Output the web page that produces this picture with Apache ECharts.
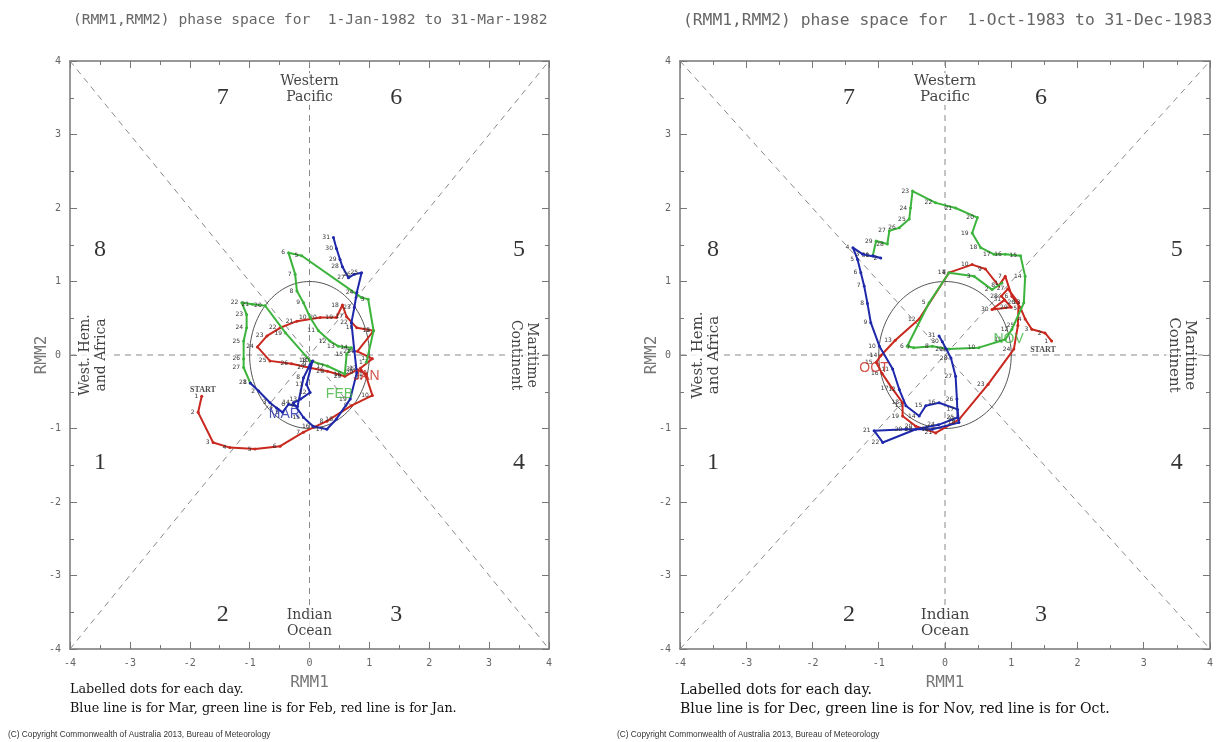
<!DOCTYPE html>
<html><head><meta charset="utf-8">
<script src="https://cdn.jsdelivr.net/npm/echarts@6/dist/echarts.min.js"></script>
<style>html,body{margin:0;padding:0;background:#fff}#c{width:1216px;height:742px}</style>
</head><body><div id="c"></div>
<script>
// ---------- data (RMM1, RMM2) ----------
const jan1982 = [[-1.80,-0.56],[-1.86,-0.78],[-1.61,-1.19],[-1.33,-1.26],[-0.91,-1.28],[-0.49,-1.24],[-0.10,-1.05],[0.29,-0.90],[0.70,-0.69],[1.05,-0.55],[0.95,-0.30],[0.85,-0.18],[1.05,-0.05],[0.80,0.05],[1.07,0.33],[0.79,0.37],[0.62,0.52],[0.55,0.68],[0.45,0.51],[0.18,0.51],[-0.21,0.46],[-0.49,0.37],[-0.71,0.26],[-0.87,0.11],[-0.66,-0.08],[-0.30,-0.12],[-0.02,-0.17],[0.30,-0.22],[0.59,-0.29],[0.80,-0.20],[0.95,-0.26]];
const feb1982 = [[0.95,-0.10],[1.07,0.33],[0.98,0.76],[0.87,0.78],[-0.13,1.35],[-0.35,1.39],[-0.24,1.10],[-0.21,0.87],[-0.10,0.71],[0.01,0.51],[0.15,0.33],[0.34,0.19],[0.48,0.12],[0.70,0.10],[0.62,0.01],[0.59,-0.26],[0.30,-0.15],[0.01,-0.08],[-0.40,0.30],[-0.74,0.67],[-0.95,0.69],[-1.13,0.71],[-1.05,0.55],[-1.05,0.37],[-1.10,0.19],[-1.10,-0.05],[-1.10,-0.17],[-0.99,-0.38]];
const mar1982 = [[-0.99,-0.38],[-0.85,-0.49],[-0.66,-0.65],[-0.55,-0.72],[-0.45,-0.78],[-0.35,-0.67],[-0.20,-0.70],[-0.10,-0.31],[0.01,-0.13],[0.05,-0.08],[-0.05,-0.40],[0.01,-0.51],[-0.15,-0.60],[-0.27,-0.65],[-0.10,-0.85],[0.06,-0.97],[0.29,-1.01],[0.45,-0.87],[0.68,-0.60],[0.79,-0.24],[0.75,0.05],[0.70,0.44],[0.75,0.65],[0.79,0.85],[0.87,1.12],[0.75,1.10],[0.65,1.05],[0.55,1.20],[0.51,1.30],[0.45,1.45],[0.40,1.60]];
const oct1983 = [[1.61,0.19],[1.51,0.30],[1.31,0.35],[1.21,0.49],[1.14,0.64],[1.01,0.80],[0.91,1.07],[0.81,0.94],[0.61,1.17],[0.41,1.23],[0.06,1.12],[-0.39,0.49],[-0.75,0.20],[-0.97,-0.01],[-1.04,-0.10],[-0.95,-0.25],[-0.80,-0.45],[-0.64,-0.65],[-0.64,-0.83],[-0.44,-0.97],[-0.14,-1.06],[0.21,-0.88],[0.65,-0.40],[1.04,0.08],[1.10,0.40],[1.11,0.71],[0.95,0.90],[0.85,0.80],[1.00,0.65],[0.71,0.62],[0.90,0.75]];
const nov1983 = [[0.86,0.98],[0.71,0.89],[0.44,1.07],[0.06,1.12],[-0.24,0.71],[-0.57,0.12],[-0.47,0.10],[-0.19,0.12],[0.06,0.08],[0.51,0.10],[0.91,0.21],[1.01,0.35],[1.19,0.71],[1.21,1.07],[1.14,1.35],[0.91,1.37],[0.74,1.37],[0.54,1.46],[0.41,1.66],[0.49,1.87],[0.16,2.00],[-0.14,2.07],[-0.49,2.23],[-0.52,2.00],[-0.54,1.85],[-0.69,1.73],[-0.84,1.69],[-0.87,1.51],[-1.04,1.55],[-1.09,1.35]];
const dec1983 = [[-1.09,1.35],[-0.97,1.32],[-1.24,1.37],[-1.39,1.46],[-1.32,1.30],[-1.27,1.12],[-1.22,0.94],[-1.17,0.70],[-1.12,0.44],[-0.99,0.12],[-0.79,-0.19],[-0.69,-0.47],[-0.59,-0.69],[-0.39,-0.83],[-0.29,-0.69],[-0.09,-0.65],[0.19,-0.74],[0.21,-0.92],[-0.19,-1.01],[-0.59,-1.01],[-1.07,-1.03],[-0.94,-1.19],[-0.44,-1.01],[-0.10,-0.95],[0.19,-0.85],[0.18,-0.60],[0.16,-0.29],[0.09,-0.04],[0.02,0.08],[-0.04,0.18],[-0.09,0.26]];
const axisMin = -4, axisMax = 4, axisStep = 1;
const phaseNames = ['1','2','3','4','5','6','7','8'];
const regionNames = ['Western\nPacific','Indian\nOcean','West. Hem.\nand Africa','Maritime\nContinent'];
const titlesText = ['(RMM1,RMM2) phase space for  1-Jan-1982 to 31-Mar-1982','(RMM1,RMM2) phase space for  1-Oct-1983 to 31-Dec-1983'];
const legendText = ['Blue line is for Mar, green line is for Feb, red line is for Jan.','Blue line is for Dec, green line is for Nov, red line is for Oct.'];
const monthNames = [['JAN','FEB','MAR'],['OCT','NOV','DEC']];

// ---------- layout / style ----------
const RED = '#c8281e', GREEN = '#3cb43c', BLUE = '#1e28aa';
const AX = '#777';
const panels = [
  {grid:{left:70, top:61, width:479, height:588}, months:[jan1982,feb1982,mar1982], wide:false,
   monthPos:[[0.95,-0.29,0],[0.50,-0.53,1],[-0.42,-0.80,2]], startPos:[-1.78,-0.47]},
  {grid:{left:680, top:61, width:532, height:588}, months:[oct1983,nov1983,dec1983], wide:true,
   monthPos:[[-1.07,-0.18,0],[0.96,0.22,1]], startPos:[1.48,0.07]}
];
const monthColors = [RED, GREEN, BLUE];
const phasePos = [[-3.5,-1.47],[-1.45,-3.54],[1.45,-3.54],[3.5,-1.47],[3.5,1.43],[1.45,3.5],[-1.45,3.5],[-3.5,1.43]];

const grids = [], xAxes = [], yAxes = [], series = [], titles = [];

function ann(x, y, text, lab) {
  return {value:[x,y], label:Object.assign({show:true, formatter:text, position:'inside'}, lab)};
}

panels.forEach((p, i) => {
  grids.push(Object.assign({containLabel:false, show:false}, p.grid));
  const base = {type:'value', min:axisMin, max:axisMax, interval:axisStep, gridIndex:i,
    splitLine:{show:false},
    axisLine:{show:true, onZero:false, lineStyle:{color:AX, width:1.5}},
    axisTick:{show:true, inside:true, length:7, lineStyle:{color:AX}},
    minorTick:{show:true, splitNumber:2, length:4, lineStyle:{color:AX}},
    minorSplitLine:{show:false}};
  const lab = {color:'#666', fontFamily:'DejaVu Sans Mono', fontSize:10};
  xAxes.push(Object.assign({}, base, {position:'bottom', axisLabel:Object.assign({margin:9}, lab),
    name:'RMM1', nameLocation:'middle', nameGap:26, nameMoveOverlap:false,
    nameTextStyle:{color:'#777', fontFamily:'DejaVu Sans Mono', fontSize:16}}));
  xAxes.push(Object.assign({}, base, {position:'top', axisLabel:{show:false}}));
  yAxes.push(Object.assign({}, base, {position:'left', axisLabel:Object.assign({margin:9}, lab),
    name:'RMM2', nameLocation:'middle', nameGap:20, nameRotate:90, nameMoveOverlap:false,
    nameTextStyle:{color:'#777', fontFamily:'DejaVu Sans Mono', fontSize:16}}));
  yAxes.push(Object.assign({}, base, {position:'right', axisLabel:{show:false}}));

  const xi = 2*i, yi = 2*i;
  const guides = [[[axisMin,axisMin],[axisMax,axisMax]],[[axisMin,axisMax],[axisMax,axisMin]],[[axisMin,0],[axisMax,0]],[[0,axisMin],[0,axisMax]]];
  guides.forEach(g => series.push({type:'line', xAxisIndex:xi, yAxisIndex:yi, data:g, symbol:'none', silent:true, z:1,
    lineStyle:{color:'#8a8a8a', width:1, type:[6,5]}}));
  // unit amplitude circle
  series.push({type:'custom', xAxisIndex:xi, yAxisIndex:yi, data:[[0,0]], silent:true, z:2,
    renderItem:(params, api) => {
      const pts = [];
      for (let k = 0; k <= 120; k++) { const a = k/120*2*Math.PI; pts.push(api.coord([Math.cos(a), Math.sin(a)])); }
      return {type:'polyline', shape:{points:pts}, style:{stroke:'#555', fill:null, lineWidth:1}};
    }});
  p.months.forEach((m, k) => series.push({type:'line', xAxisIndex:xi, yAxisIndex:yi, data:m, z:3+k,
    symbol:'circle', symbolSize:3, itemStyle:{color:monthColors[k]},
    lineStyle:{color:monthColors[k], width:2},
    label:{show:true, position:'left', distance:2, fontSize:6, color:'#333', fontFamily:'DejaVu Sans',
      formatter: q => String(q.dataIndex+1)}}));

  // annotations
  const anns = [];
  phaseNames.forEach((n, k) => anns.push(ann(phasePos[k][0], phasePos[k][1], n,
    {fontFamily:'Liberation Serif', fontSize:24, color:'#000'})));
  const reg = {fontFamily:'DejaVu Serif', fontSize:p.wide ? 15 : 14, color:'#111', lineHeight:16,
    align:'center', backgroundColor:'#fff', padding:[0,2]};
  anns.push(ann(0, 3.62, regionNames[0], reg));
  anns.push(ann(0, -3.65, regionNames[1], reg));
  anns.push(ann(-3.61, 0, regionNames[2], Object.assign({rotate:90}, reg)));
  anns.push(ann(3.58, 0, regionNames[3], Object.assign({rotate:-90}, reg)));
  p.monthPos.forEach(mp => anns.push(ann(mp[0], mp[1], monthNames[i][mp[2]],
    {fontFamily:'Liberation Sans', fontSize:14, color:monthColors[mp[2]]})));
  anns.push(ann(p.startPos[0], p.startPos[1], 'START',
    {fontFamily:'Liberation Serif', fontSize:8, color:'#222', fontWeight:'bold'}));
  series.push({type:'scatter', xAxisIndex:xi, yAxisIndex:yi, data:anns, symbolSize:1, silent:true, z:10,
    itemStyle:{color:'rgba(0,0,0,0)'}});

  const L = p.grid.left;
  titles.push({text:titlesText[i], left:L + 3, top:13, padding:0,
    textStyle:{fontFamily:'DejaVu Sans Mono', fontSize:p.wide ? 16.3 : 14.6, color:'#666', fontWeight:'normal'}});
  titles.push({text:'Labelled dots for each day.', left:L, top:683, padding:0,
    textStyle:{fontFamily:'DejaVu Serif', fontSize:p.wide ? 14.1 : 12.75, color:'#111', fontWeight:'normal'}});
  titles.push({text:legendText[i], left:L, top:702, padding:0,
    textStyle:{fontFamily:'DejaVu Serif', fontSize:p.wide ? 14.1 : 12.75, color:'#111', fontWeight:'normal'}});
  titles.push({text:'(C) Copyright Commonwealth of Australia 2013, Bureau of Meteorology', left:i ? 617 : 8, top:731, padding:0,
    textStyle:{fontFamily:'Liberation Sans', fontSize:8.3, color:'#333', fontWeight:'normal'}});
});

const chart = echarts.init(document.getElementById('c'));
chart.setOption({
  animation:false, backgroundColor:'#fff',
  title:titles, grid:grids, xAxis:xAxes, yAxis:yAxes, series:series
});
</script></body></html>
